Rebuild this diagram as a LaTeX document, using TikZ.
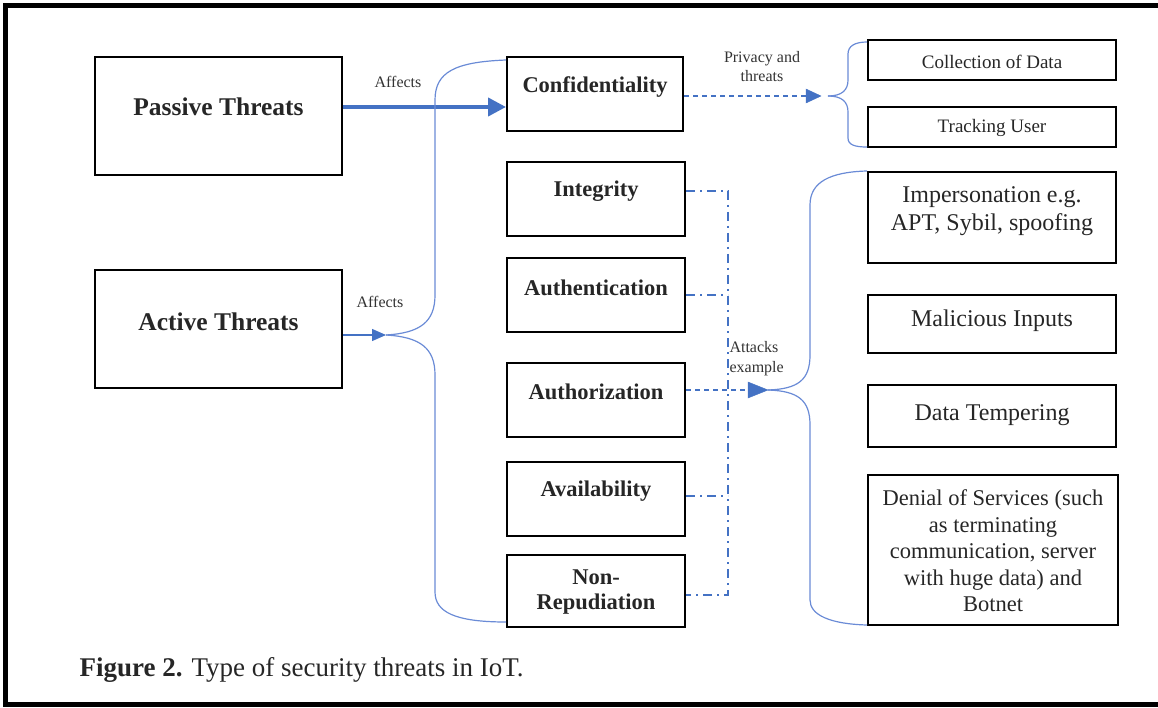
\documentclass[tikz,border=0pt]{standalone}
\usepackage{fontspec}
\setmainfont{Liberation Serif}
\usetikzlibrary{arrows.meta}
\definecolor{lblue}{HTML}{4472C4}
\definecolor{bblue}{HTML}{6A8BD6}
\begin{document}
\begin{tikzpicture}[x=1pt,y=-1pt,
  box/.style={draw=black,line width=2pt,inner sep=0pt},
  btxt/.style={font=\bfseries\fontsize{22.5}{25}\selectfont,align=center,text=black!85},
  rtxt/.style={font=\fontsize{24}{28}\selectfont,align=center,text=black!85},
  stxt/.style={font=\fontsize{19}{22}\selectfont,align=center,text=black!85},
  lbl/.style={font=\fontsize{16}{19}\selectfont,text=black!80},
  brc/.style={draw=bblue,line width=1.2pt},
  dsh/.style={draw=lblue,line width=1.2pt,dash pattern=on 5pt off 4pt},
  ddot/.style={draw=lblue,line width=1.5pt,dash pattern=on 9pt off 5pt on 2pt off 5pt},
  tip/.style={-{Triangle[length=14pt,width=12pt]}}]
\useasboundingbox (0,0) rectangle (1158,708);
\draw[line width=5pt] (1160,5.5) -- (5.5,5.5) -- (5.5,704) -- (1160,704);

% left boxes
\node[box,minimum width=247pt,minimum height=118pt] (passive) at (218.5,116) {};
\node[btxt,font=\bfseries\fontsize{25.5}{28}\selectfont] (passivet) at ([yshift=9pt]passive.center) {Passive Threats};
\node[box,minimum width=247pt,minimum height=118pt] (active) at (218.5,329) {};
\node[btxt,font=\bfseries\fontsize{25.5}{28}\selectfont] (activet) at ([yshift=7pt]active.center) {Active Threats};

% middle boxes
\node[box,minimum width=176pt,minimum height=74pt] (conf) at (595,94) {};
\node[btxt] (conft) at ([yshift=7pt]conf.center) {Confidentiality};
\node[box,minimum width=178pt,minimum height=74pt] (integ) at (596,199) {};
\node[btxt] (integt) at ([yshift=8pt]integ.center) {Integrity};
\node[box,minimum width=178pt,minimum height=74pt] (authn) at (596,295) {};
\node[btxt] (authnt) at ([yshift=7pt]authn.center) {Authentication};
\node[box,minimum width=178pt,minimum height=74pt] (authz) at (596,400) {};
\node[btxt] (authzt) at ([yshift=8pt]authz.center) {Authorization};
\node[box,minimum width=178pt,minimum height=74pt] (avail) at (596,499) {};
\node[btxt] (availt) at ([yshift=8pt]avail.center) {Availability};
\node[box,minimum width=178pt,minimum height=72pt] (nonrep) at (596,591) {};
\node[btxt,font=\bfseries\fontsize{22.5}{25}\selectfont] (nonrept) at ([yshift=-1pt]nonrep.center) {Non-\\Repudiation};

% right boxes
\node[box,minimum width=248pt,minimum height=40pt] (coll) at (992,60) {};
\node[stxt] (collt) at ([yshift=-1.5pt]coll.center) {Collection of Data};
\node[box,minimum width=248pt,minimum height=40pt] (track) at (992,127) {};
\node[stxt] (trackt) at ([yshift=-0.5pt]track.center) {Tracking User};
\node[box,minimum width=248pt,minimum height=91pt] (imp) at (992,217.5) {};
\node[rtxt] (impt) at ([yshift=6pt]imp.center) {Impersonation e.g.\\APT, Sybil, spoofing};
\node[box,minimum width=248pt,minimum height=58pt] (mal) at (992,324) {};
\node[rtxt] (malt) at ([yshift=3pt]mal.center) {Malicious Inputs};
\node[box,minimum width=248pt,minimum height=62pt] (temp) at (992,416) {};
\node[rtxt] (tempt) at ([yshift=1pt]temp.center) {Data Tempering};
\node[box,minimum width=250pt,minimum height=150pt] (dos) at (993,550) {};
\node[rtxt,font=\fontsize{22.5}{26.5}\selectfont] (dost) at ([yshift=-1pt]dos.center) {Denial of Services (such\\as terminating\\communication, server\\with huge data) and\\Botnet};

% passive -> confidentiality
\draw[draw=lblue,line width=4pt,-{Triangle[length=18pt,width=18pt]}] (passive.east |- 0,107) -- (conf.west |- 0,107);
\node[lbl] (aff1) at (398,82) {Affects};

% active -> brace
\coordinate (atip) at (386,335);
\draw[draw=lblue,line width=1.2pt,tip] (active.east |- atip) -- (atip);
\node[lbl] (aff2) at (380,302) {Affects};
\draw[brc] (conf.west |- 0,60) .. controls (455,62) and (435,72) .. (435,100) -- (435,295)
  .. controls (435,322) and (420,333) .. (atip);
\draw[brc] (atip) .. controls (420,337) and (435,348) .. (435,375) -- (435,592)
  .. controls (435,612) and (455,622) .. (nonrep.west |- 0,622);

% privacy
\coordinate (ptip) at (820,96);
\draw[dsh] (conf.east |- ptip) -- (ptip);
\draw[draw=lblue,fill=lblue] (806,89) -- (821,96) -- (806,103) -- cycle;
\node[lbl,align=center,font=\fontsize{16}{19}\selectfont] (priv) at (762,67) {Privacy and\\threats};
\draw[brc] (828,96) .. controls (842,96) and (848,90) .. (848,80) -- (848,54)
  .. controls (848,46) and (855,42) .. (coll.west |- 0,42);
\draw[brc] (828,96) .. controls (842,96) and (848,102) .. (848,112) -- (848,138)
  .. controls (848,145) and (855,147) .. (track.west |- 0,147);

% dash-dot collector
\coordinate (dtop) at (728,191);
\coordinate (dbot) at (728,595);
\draw[ddot] (integ.east |- dtop) -- (dtop) -- (dbot) -- (nonrep.east |- dbot);
\draw[ddot] (authn.east |- 0,295) -- (728,295);
\draw[ddot] (avail.east |- 0,496) -- (728,496);

% authorization -> attacks
\coordinate (ktip) at (768,390);
\draw[dsh] (authz.east |- ktip) -- (752,390);
\draw[draw=lblue,fill=lblue] (748,382) -- (768,390) -- (748,398) -- cycle;
\node[lbl,align=left,anchor=west,font=\fontsize{16}{20}\selectfont] (att) at (726,359) {Attacks\\example};
\draw[brc] (ktip) .. controls (798,389) and (810,380) .. (810,355) -- (810,205)
  .. controls (810,182) and (830,172) .. (imp.west |- 0,171);
\draw[brc] (ktip) .. controls (798,391) and (810,400) .. (810,425) -- (810,600)
  .. controls (810,615) and (830,624) .. (dos.west |- 0,625);

% caption
\node[anchor=west,font=\fontsize{27}{31}\selectfont,text=black!85] (cap) at (76,670) {\textbf{Figure 2.} Type of security threats in IoT.};
\end{tikzpicture}
\end{document}
